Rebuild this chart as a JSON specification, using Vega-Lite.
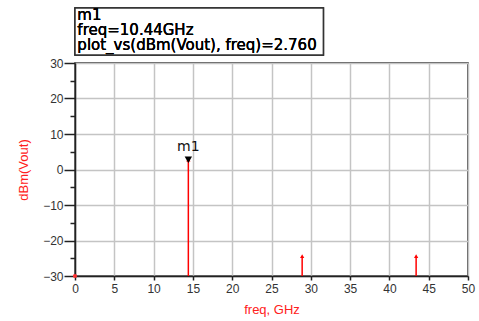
{
  "$schema": "https://vega.github.io/schema/vega-lite/v6.json",
  "autosize": {"type": "none"},
  "width": 393,
  "height": 213,
  "padding": {"left": 75, "top": 63, "right": 11, "bottom": 45},
  "background": "white",
  "config": {
    "view": {"stroke": "#222", "strokeWidth": 1.5},
    "font": "Liberation Sans"
  },
  "data": {"values": [
    {"freq": 14.42, "dbm": 2.76},
    {"freq": 28.9, "dbm": -24.4},
    {"freq": 43.4, "dbm": -24.4}
  ]},
  "resolve": {"axis": {"y": "independent"}},
  "layer": [
    {
      "mark": {"type": "rule", "color": "#ff0000", "strokeWidth": 1.5},
      "encoding": {
        "x": {
          "field": "freq", "type": "quantitative",
          "scale": {"domain": [0, 50], "nice": false, "zero": false},
          "axis": {
            "values": [0, 5, 10, 15, 20, 25, 30, 35, 40, 45, 50],
            "tickCount": 30,
            "labelOverlap": false,
            "title": "freq, GHz",
            "titleColor": "#ff2020",
            "titleFont": "Liberation Sans",
            "titleFontSize": 13,
            "titleFontWeight": "normal",
            "titlePadding": 9,
            "labelFont": "Liberation Sans",
            "labelFontSize": 12,
            "labelColor": "#333",
            "labelPadding": 3,
            "labelFlush": false,
            "tickSize": 4,
            "tickColor": "#222",
            "tickWidth": 1.5,
            "domainColor": "#222",
            "domainWidth": 1.5,
            "grid": true,
            "gridColor": "#c4c4c4",
            "gridWidth": 1.5
          }
        },
        "y": {
          "field": "dbm", "type": "quantitative",
          "scale": {"domain": [-30, 30], "nice": false, "zero": false},
          "axis": {
            "orient": "left",
            "values": [-30, -20, -10, 0, 10, 20, 30],
            "tickCount": 30,
            "labelOverlap": false,
            "title": "dBm(Vout)",
            "titleColor": "#ff2020",
            "titleFont": "Liberation Sans",
            "titleFontSize": 13,
            "titleFontWeight": "normal",
            "titlePadding": 12,
            "labelFont": "Liberation Sans",
            "labelFontSize": 12,
            "labelColor": "#333",
            "labelPadding": 1,
            "labelFlush": false,
            "tickSize": 11,
            "tickColor": "#222",
            "tickWidth": 1.5,
            "domainColor": "#222",
            "domainWidth": 1.5,
            "grid": true,
            "gridColor": "#c4c4c4",
            "gridWidth": 1.5
          }
        },
        "y2": {"datum": -30}
      }
    },
    {
      "mark": {"type": "point", "shape": "triangle-up", "filled": true, "color": "#ff0000", "size": 18, "opacity": 1},
      "encoding": {
        "x": {"field": "freq", "type": "quantitative"},
        "y": {
          "field": "dbm", "type": "quantitative",
          "axis": {
            "orient": "left",
            "values": [-25, -15, -5, 5, 15, 25],
            "tickCount": 30,
            "labels": false,
            "title": null,
            "domain": false,
            "grid": false,
            "tickSize": 5,
            "tickColor": "#222",
            "tickWidth": 1.5,
            "offset": 0
          }
        }
      }
    },
    {
      "mark": {"type": "point", "shape": "cross", "angle": 45, "filled": true, "color": "#ff3030", "size": 14, "opacity": 1, "clip": false},
      "encoding": {
        "x": {"datum": 0, "type": "quantitative"},
        "y": {"datum": -30, "type": "quantitative", "axis": null}
      }
    },
    {
      "transform": [{"filter": "datum.freq < 20"}],
      "mark": {"type": "point", "shape": "triangle-down", "filled": true, "color": "#000", "size": 55, "opacity": 1, "dy": -4},
      "encoding": {
        "x": {"field": "freq", "type": "quantitative"},
        "y": {"field": "dbm", "type": "quantitative", "axis": null}
      }
    },
    {
      "transform": [{"filter": "datum.freq < 20"}],
      "mark": {"type": "text", "text": "m1", "font": "DejaVu Sans", "fontSize": 14, "color": "#111", "baseline": "alphabetic", "align": "center", "dy": -9},
      "encoding": {
        "x": {"field": "freq", "type": "quantitative"},
        "y": {"field": "dbm", "type": "quantitative", "axis": null}
      }
    },
    {
      "mark": {"type": "rect", "fill": "white", "stroke": "#333", "strokeWidth": 1.5, "clip": false},
      "encoding": {
        "x": {"datum": 0, "type": "quantitative"},
        "x2": {"datum": 31.6},
        "y": {"datum": 45.5, "type": "quantitative", "axis": null},
        "y2": {"datum": 32.25}
      }
    },
    {
      "mark": {"type": "text", "text": "m1", "font": "DejaVu Sans", "fontSize": 15, "color": "#000", "align": "left", "baseline": "alphabetic", "clip": false},
      "encoding": {
        "x": {"datum": 0.3, "type": "quantitative"},
        "y": {"datum": 42.11, "type": "quantitative", "axis": null}
      }
    },
    {
      "mark": {"type": "text", "text": "freq=10.44GHz", "font": "DejaVu Sans", "fontSize": 15, "color": "#000", "align": "left", "baseline": "alphabetic", "clip": false},
      "encoding": {
        "x": {"datum": 0.3, "type": "quantitative"},
        "y": {"datum": 37.89, "type": "quantitative", "axis": null}
      }
    },
    {
      "mark": {"type": "text", "text": "plot_vs(dBm(Vout), freq)=2.760", "font": "DejaVu Sans", "fontSize": 15, "color": "#000", "align": "left", "baseline": "alphabetic", "clip": false},
      "encoding": {
        "x": {"datum": 0.3, "type": "quantitative"},
        "y": {"datum": 33.66, "type": "quantitative", "axis": null}
      }
    }
  ]
}
